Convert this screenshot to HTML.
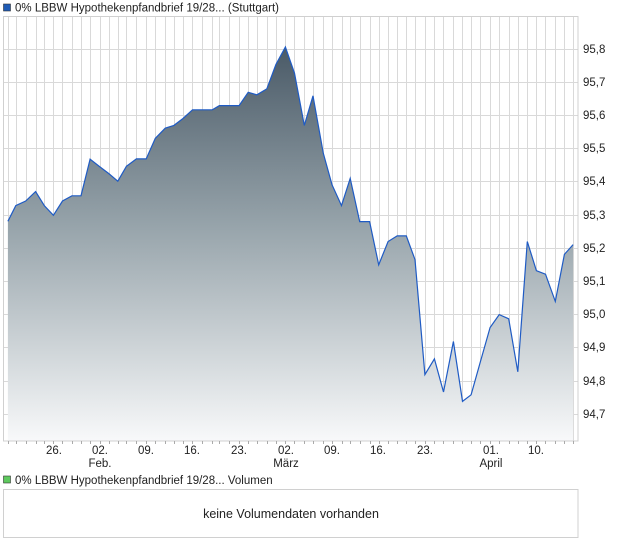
<!DOCTYPE html>
<html><head><meta charset="utf-8"><style>
body{margin:0;background:#fff;width:620px;height:546px;overflow:hidden;font-family:"Liberation Sans",sans-serif;}
svg{position:absolute;left:0;top:0}
</style></head><body>
<svg width="620" height="546" xmlns="http://www.w3.org/2000/svg" font-family="Liberation Sans, sans-serif">
<defs>
<linearGradient id="g" x1="0" y1="47" x2="0" y2="441" gradientUnits="userSpaceOnUse">
<stop offset="0" stop-color="#4a5a67"/>
<stop offset="0.45" stop-color="#96a3aa"/>
<stop offset="1" stop-color="#f8f9fa"/>
</linearGradient>
</defs>
<rect x="0" y="0" width="620" height="546" fill="#fff"/>
<rect x="3.5" y="4" width="7" height="7" fill="#1f5bb5" stroke="#333" stroke-width="0.6"/>
<text x="15" y="11.5" font-size="11.5" fill="#222">0% LBBW Hypothekenpfandbrief 19/28... (Stuttgart)</text>
<g stroke="#d9d9d9" stroke-width="1" id="vg"></g>
<g stroke="#d9d9d9" stroke-width="1">
<line x1="3" y1="49.5" x2="578" y2="49.5"/><line x1="3" y1="82.5" x2="578" y2="82.5"/>
<line x1="3" y1="115.5" x2="578" y2="115.5"/><line x1="3" y1="148.5" x2="578" y2="148.5"/>
<line x1="3" y1="181.5" x2="578" y2="181.5"/><line x1="3" y1="215.5" x2="578" y2="215.5"/>
<line x1="3" y1="248.5" x2="578" y2="248.5"/><line x1="3" y1="281.5" x2="578" y2="281.5"/>
<line x1="3" y1="314.5" x2="578" y2="314.5"/><line x1="3" y1="347.5" x2="578" y2="347.5"/>
<line x1="3" y1="381.5" x2="578" y2="381.5"/><line x1="3" y1="414.5" x2="578" y2="414.5"/>
</g>
<g id="plot"></g>
<rect x="3.5" y="16.5" width="574.5" height="424.5" fill="none" stroke="#d0d0d0"/>
<g font-size="11.5" fill="#222">
<text x="583" y="53">95,8</text><text x="583" y="86">95,7</text><text x="583" y="119">95,6</text>
<text x="583" y="152">95,5</text><text x="583" y="185">95,4</text><text x="583" y="219">95,3</text>
<text x="583" y="252">95,2</text><text x="583" y="285">95,1</text><text x="583" y="318">95,0</text>
<text x="583" y="351">94,9</text><text x="583" y="385">94,8</text><text x="583" y="418">94,7</text>
</g>
<g font-size="11.5" fill="#222" text-anchor="middle">
<text x="54" y="454">26.</text><text x="100" y="454">02.</text><text x="146" y="454">09.</text>
<text x="192" y="454">16.</text><text x="239" y="454">23.</text><text x="286" y="454">02.</text>
<text x="332" y="454">09.</text><text x="378" y="454">16.</text><text x="425" y="454">23.</text>
<text x="491" y="454">01.</text><text x="536" y="454">10.</text>
<text x="100" y="467">Feb.</text><text x="286" y="467">März</text><text x="491" y="467">April</text>
</g>
<rect x="3.5" y="476" width="7" height="7" fill="#5ec95e" stroke="#333" stroke-width="0.6"/>
<text x="15" y="484" font-size="11.5" fill="#222">0% LBBW Hypothekenpfandbrief 19/28... Volumen</text>
<rect x="3.5" y="489.5" width="574.5" height="48" fill="none" stroke="#d0d0d0"/>
<text x="291" y="518" font-size="12.5" fill="#222" text-anchor="middle">keine Volumendaten vorhanden</text>
</svg>
<script>
var p=[[20,635],[40,590],[65,577],[90,550],[112,590],[135,618],[158,577],[182,562],[205,562],[228,457],[252,478],[275,498],[298,520],[320,477],[345,456],[370,456],[393,397],[418,368],[440,360],[463,340],[487,315],[510,315],[537,315],[555,303],[580,303],[605,303],[628,265],[650,272],[675,255],[698,185],[722,135],[745,210],[770,360],[792,275],[818,440],[840,530],[864,590],[886,512],[910,636],[935,636],[958,760],[982,693],[1005,677],[1028,677],[1050,745],[1075,1075],[1099,1030],[1122,1125],[1147,980],[1170,1152],[1192,1133],[1215,1040],[1240,940],[1263,903],[1287,915],[1310,1067],[1334,693],[1357,777],[1380,787],[1405,865],[1428,730],[1450,702]];
var pts=p.map(function(a){return (a[0]/2.53).toFixed(1)+','+(a[1]/2.87).toFixed(1)});
var ns='http://www.w3.org/2000/svg';
var vg=document.getElementById('vg');
p.forEach(function(a){var x=Math.round(a[0]/2.53)+0.5;var l=document.createElementNS(ns,'line');l.setAttribute('x1',x);l.setAttribute('x2',x);l.setAttribute('y1',17);l.setAttribute('y2',441);vg.appendChild(l);
var t=document.createElementNS(ns,'line');t.setAttribute('x1',x);t.setAttribute('x2',x);t.setAttribute('y1',441);t.setAttribute('y2',444);t.setAttribute('stroke','#aaa');vg.parentNode.appendChild(t);});
var g=document.getElementById('plot');
var f=document.createElementNS(ns,'polygon');
f.setAttribute('points',(p[0][0]/2.53).toFixed(1)+',441 '+pts.join(' ')+' '+(p[p.length-1][0]/2.53).toFixed(1)+',441');
f.setAttribute('fill','url(#g)');g.appendChild(f);
var l=document.createElementNS(ns,'polyline');l.setAttribute('points',pts.join(' '));l.setAttribute('fill','none');l.setAttribute('stroke','#1f5bc4');l.setAttribute('stroke-width','1.2');g.appendChild(l);
</script>
</body></html>
